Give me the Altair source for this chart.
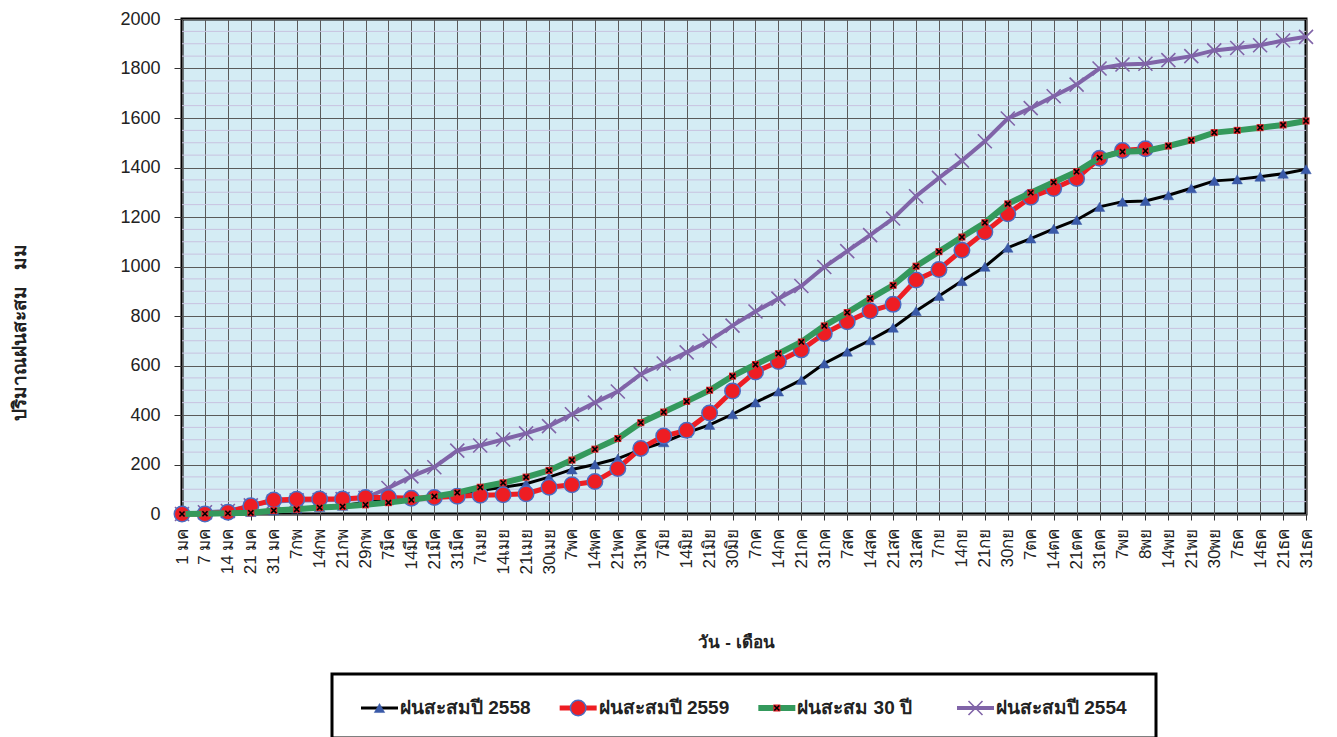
import altair as alt
import pandas as pd

days = ["1 มค", "7 มค", "14 มค", "21 มค", "31 มค", "7กพ", "14กพ", "21กพ", "29กพ",
        "7มีค", "14มีค", "21มีค", "31มีค", "7เมย", "14เมย", "21เมย", "30เมย",
        "7พค", "14พค", "21พค", "31พค", "7มิย", "14มิย", "21มิย", "30มิย",
        "7กค", "14กค", "21กค", "31กค", "7สค", "14สค", "21สค", "31สค",
        "7กย", "14กย", "21กย", "30กย", "7ตค", "14ตค", "21ตค", "31ตค",
        "7พย", "8พย", "14พย", "21พย", "30พย", "7ธค", "14ธค", "21ธค", "31ธค"]

s58 = "ฝนสะสมปี 2558"
s59 = "ฝนสะสมปี 2559"
s30 = "ฝนสะสม 30 ปี"
s54 = "ฝนสะสมปี 2554"
series_names = [s58, s59, s30, s54]

rain_2558 = [0, 1, 3, 8, 15, 22, 28, 33, 48, 55, 62, 70, 80, 95, 108, 122, 149,
             180, 200, 224, 260, 290, 328, 360, 403, 451, 495, 542, 608, 656,
             702, 753, 820, 881, 941, 999, 1076, 1113, 1152, 1188, 1241, 1262,
             1265, 1288, 1316, 1346, 1352, 1363, 1375, 1393]
rain_2559 = [0, 0, 7, 33, 57, 60, 61, 61, 67, 67, 64, 67, 72, 76, 78, 82, 108,
             118, 131, 184, 265, 315, 338, 408, 497, 574, 616, 663, 729, 777,
             820, 847, 945, 988, 1066, 1139, 1213, 1280, 1315, 1356, 1437, 1469,
             1476]
rain_30yr = [0, 1, 3, 5, 14, 19, 26, 30, 37, 46, 57, 71, 86, 108, 126, 149, 176,
             218, 262, 305, 369, 412, 455, 500, 557, 604, 648, 695, 760, 814,
             870, 924, 1001, 1060, 1119, 1177, 1253, 1298, 1340, 1383, 1440,
             1464, 1467, 1487, 1510, 1541, 1550, 1561, 1572, 1588]
rain_2554 = [0, 7, 12, 35, 50, 55, 56, 60, 65, 105, 152, 189, 256, 277, 301, 326,
             355, 403, 450, 495, 565, 608, 653, 700, 761, 818, 870, 921, 998,
             1062, 1127, 1194, 1284, 1358, 1428, 1506, 1598, 1640, 1688, 1735,
             1800, 1816, 1819, 1834, 1850, 1873, 1883, 1894, 1913, 1928]

minor_grid = [v for v in range(50, 2000, 50) if v % 200 != 0]

rows = []
for name, vals in [(s58, rain_2558), (s59, rain_2559), (s30, rain_30yr), (s54, rain_2554)]:
    for d, v in zip(days, vals):
        rows.append({"day": d, "series": name, "value": v})
df = pd.DataFrame(rows)
df_minor = pd.DataFrame({"value": minor_grid})
df_leg = pd.DataFrame({"series": series_names})

FONT = "Liberation Sans, Arial, Noto Sans, DejaVu Sans, sans-serif"
XPATH = "M-1,-1L1,1M-1,1L1,-1"

line_styles = {
    s58: dict(color="#000000", strokeWidth=3),
    s59: dict(color="#ee1d23", strokeWidth=5),
    s30: dict(color="#34995c", strokeWidth=6),
    s54: dict(color="#8064a8", strokeWidth=4),
}
marker_styles = {
    s58: [dict(shape="triangle-up", filled=True, fill="#3a5aa8", stroke="#3a5aa8",
               strokeWidth=0.5, size=110, opacity=1)],
    s59: [dict(shape="circle", filled=True, fill="#ee1d23", stroke="#4a6cc2",
               strokeWidth=1.5, size=240, opacity=1)],
    s30: [dict(shape="square", filled=True, fill="#e0242a", stroke="#e0242a",
               strokeWidth=0, size=50, opacity=1),
          dict(shape=XPATH, filled=False, stroke="#000000", strokeWidth=1.6,
               size=26, opacity=1)],
    s54: [dict(shape=XPATH, filled=False, stroke="#8064a8", strokeWidth=1.6,
               size=196, opacity=1)],
}

x_axis = alt.Axis(
    title="วัน - เดือน", labelAngle=-90, labelFontSize=17, labelFont=FONT,
    labelColor="#222222", labelPadding=8, labelOverlap=False,
    tickSize=6, tickColor="#333333", domain=False,
    grid=True, gridColor="#5a5a5a", gridWidth=1,
    titleFont=FONT, titleFontSize=17, titleFontWeight="bold", titleColor="#222222",
    titleX=554, titleY=128, titleAlign="center", titleBaseline="middle",
)
y_axis = alt.Axis(
    title="ปริมาณฝนสะสม\u00a0\u00a0\u00a0มม", values=list(range(0, 2001, 200)), format="d",
    labelFontSize=18, labelFont=FONT, labelColor="#222222", labelPadding=14,
    tickSize=8, tickColor="#333333", domain=False,
    grid=True, gridColor="#5a5a5a", gridWidth=1,
    titleFont=FONT, titleFontSize=19, titleFontWeight="bold", titleColor="#222222",
    titleX=-163, titleY=313, titleAlign="center", titleBaseline="middle",
)
x_enc = alt.X("day:N", sort=days, scale=alt.Scale(type="point", padding=0), axis=x_axis)
y_scale = alt.Scale(domain=[0, 2000], nice=False)
y_enc = alt.Y("value:Q", scale=y_scale, axis=y_axis)

minor = alt.Chart(df_minor).mark_rule(color="#c8c2e0", strokeWidth=1).encode(
    y=alt.Y("value:Q", scale=y_scale, axis=y_axis)
)

layers = [minor]
for name in [s54, s58, s59, s30]:
    base = alt.Chart(df).transform_filter(alt.datum.series == name)
    layers.append(base.mark_line(**line_styles[name]).encode(x=x_enc, y=y_enc))
    for ms in marker_styles[name]:
        layers.append(base.mark_point(**ms).encode(x=x_enc, y=y_enc))

main = alt.layer(*layers).properties(
    width=1124, height=495,
    view=alt.ViewBackground(fill="#d4ecf4", stroke="#000000", strokeWidth=3),
)

# legend panel
lx = alt.X("series:N", sort=series_names,
           scale=alt.Scale(type="point", domain=series_names, range=[29, 625], padding=0),
           axis=None)
LY = 34
leg_layers = []
for name in series_names:
    b = alt.Chart(df_leg).transform_filter(alt.datum.series == name)
    leg_layers.append(
        b.mark_rule(x2Offset=37, **line_styles[name]).encode(
            x=lx, x2=alt.X2("series:N"), y=alt.value(LY))
    )
    for ms in marker_styles[name]:
        leg_layers.append(b.mark_point(xOffset=18.5, **ms).encode(x=lx, y=alt.value(LY)))
leg_layers.append(
    alt.Chart(df_leg).mark_text(align="left", baseline="middle", dx=39, font=FONT,
                                fontSize=19, fontWeight="bold", color="#222222").encode(
        x=lx, y=alt.value(LY), text="series:N")
)
legend = alt.layer(*leg_layers).properties(
    width=824, height=64,
    view=alt.ViewBackground(fill="#ffffff", stroke="#000000", strokeWidth=3),
)

chart = alt.vconcat(main, legend, spacing=160, bounds="flush", center=True).properties(
    padding=0, background="#ffffff"
).configure_view(strokeWidth=3)

chart.save("out.html", embed_options={"renderer": "svg", "actions": False})
